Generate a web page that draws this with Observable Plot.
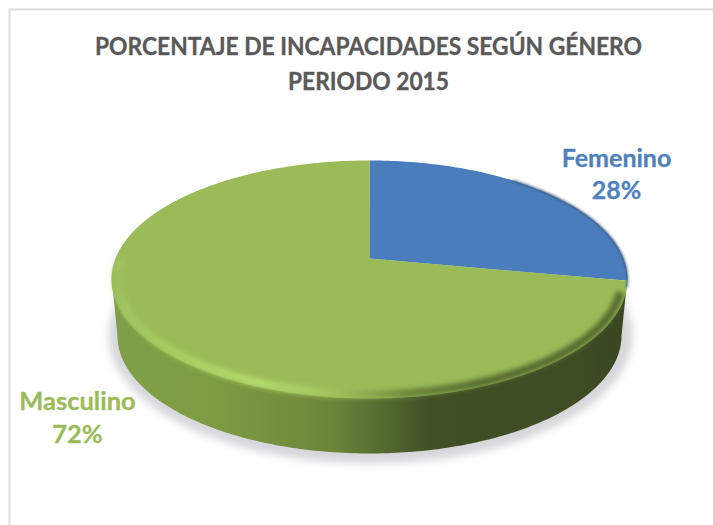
<!DOCTYPE html>
<html>
<head>
<meta charset="utf-8">
<script src="https://cdn.jsdelivr.net/npm/d3@7"></script>
<script src="https://cdn.jsdelivr.net/npm/@observablehq/plot@0.6"></script>
<style>
html,body{margin:0;padding:0;background:#fff}
svg{display:block}
</style>
</head>
<body>
<div id="chart"></div>
<script>
const categories = ["Femenino", "Masculino"];
const shares = [28, 72];
const sliceColors = ["#4a7dbb", "#9bbb59"];
const labelColors = ["#4f81bd", "#9bbb59"];
const titleLines = ["PORCENTAJE DE INCAPACIDADES SEGÚN GÉNERO", "PERIODO 2015"];

// Tilted-disc view: unit circle -> normalised plane, with a perspective term
const k = 0.1765, ax = 0.9845, by = 0.969, shiftY = -0.1765;
const project = (t) => {
  const u = Math.sin(t), v = -Math.cos(t), w = 1 - k * v;
  return [ax * u / w, by * v / w + shiftY];
};
const total = d3.sum(shares);
let acc = 0;
const slicePts = [];
categories.forEach((c, i) => {
  const a0 = acc / total * 2 * Math.PI;
  acc += shares[i];
  const a1 = acc / total * 2 * Math.PI;
  slicePts.push({c, x: 0, y: shiftY});
  const n = Math.ceil((a1 - a0) / (Math.PI / 180));
  for (let j = 0; j <= n; j++) {
    const [x, y] = project(a0 + (a1 - a0) * j / n);
    slicePts.push({c, x, y});
  }
});
const ringPts = (cx, cy, rx, ry, from, to, n = 180) =>
  d3.range(n + 1).map(j => {
    const t = from + (to - from) * j / n;
    return {x: cx + rx * Math.cos(t), y: cy + ry * Math.sin(t)};
  });

const wallPts = [
  {x: -0.995, y: 0.08},
  ...ringPts(0, 0.47, 0.977, 0.992, Math.PI, 0),
  {x: 0.995, y: 0.08}
];
const shadowPts = ringPts(0.004, 0.47, 1.015, 1.075, 0, 2 * Math.PI);
const bevelPts = ringPts(0, 0, 0.978, 0.965, Math.PI * 1.06, Math.PI * 0.035);
const darkRimPts = ringPts(0, 0, 1, 1, -Math.PI / 2, 0.02 * Math.PI);

const blur = (id) => ({
  render(index, scales, values, dims, ctx, next) {
    const g = next(index, scales, values, dims, ctx);
    g.setAttribute("filter", `url(#${id})`);
    return g;
  }
});

const defs = () => {
  const d = d3.create("svg:defs");
  const grad = (id, stops) => {
    const g = d.append("linearGradient").attr("id", id)
      .attr("gradientUnits", "userSpaceOnUse")
      .attr("x1", 110).attr("x2", 628).attr("y1", 0).attr("y2", 0);
    stops.forEach(([o, c]) => g.append("stop").attr("offset", o).attr("stop-color", c));
  };
  grad("wall", [[0, "#7f9f48"], [0.2, "#7d9c42"], [0.42, "#6d873a"], [0.52, "#566c30"], [0.62, "#414f25"], [0.9, "#3e4c24"], [1, "#3a4722"]]);
  grad("bevel", [[0, "#9bbb59"], [0.03, "#a3c763"], [0.12, "#a8cf62"], [0.28, "#b6dd6e"], [0.42, "#a4c660"], [0.5, "#8aa74d"], [0.58, "#6a8239"], [0.72, "#55692f"], [1, "#55692f"]]);
  const f = (id, s) => d.append("filter").attr("id", id)
    .attr("x", "-10%").attr("y", "-20%").attr("width", "120%").attr("height", "140%")
    .append("feGaussianBlur").attr("stdDeviation", s);
  f("soft", 4);
  f("edge", 2.6);
  f("rimsoft", 0.8);
  return d.node();
};

const textBase = {fontFamily: "Lato, 'Open Sans', sans-serif", fontWeight: 700, frameAnchor: "top-left", textAnchor: "middle", lineAnchor: "top", text: d => d};
const titleStyle = {...textBase, fontSize: 25.5, fill: "#595959", stroke: "#595959", strokeWidth: 0.35};

const chart = Plot.plot({
  width: 713,
  height: 525,
  margin: 0,
  axis: null,
  x: {domain: [-1, 1], range: [111, 627]},
  y: {domain: [-1, 1], range: [160, 398]},
  color: {domain: categories, range: sliceColors},
  marks: [
    defs,
    Plot.frame({stroke: "#dcdcdc", strokeWidth: 2, insetLeft: 9, insetTop: 9, insetRight: -10, insetBottom: -10}),
    Plot.line(shadowPts, {x: "x", y: "y", fill: "#d6d6da", stroke: "none", ...blur("soft")}),
    Plot.line(wallPts, {x: "x", y: "y", fill: "url(#wall)", stroke: "none"}),
    Plot.line(slicePts, {x: "x", y: "y", z: "c", fill: "c", stroke: "none"}),
    Plot.line(bevelPts, {x: "x", y: "y", stroke: "url(#bevel)", strokeWidth: 8, strokeLinecap: "butt", ...blur("edge")}),
    Plot.line(darkRimPts.filter(d => d.x > 0.55), {x: "x", y: "y", stroke: "#34506f", strokeWidth: 1.5, ...blur("rimsoft")}),
    Plot.text([titleLines[0]], {...titleStyle, dx: 368, dy: 36}),
    Plot.text([titleLines[1]], {...titleStyle, dx: 368, dy: 71}),
    Plot.text([`${categories[0]}\n${shares[0]}%`], {
      ...textBase, dx: 616, dy: 143, lineHeight: 1.3, fontSize: 25, fill: labelColors[0], stroke: labelColors[0], strokeWidth: 0.3
    }),
    Plot.text([`${categories[1]}\n${shares[1]}%`], {
      ...textBase, dx: 77, dy: 386, lineHeight: 1.3, fontSize: 25.5, fill: labelColors[1], stroke: labelColors[1], strokeWidth: 0.3
    })
  ]
});
// Condense the title's glyphs to the reference's narrower letterforms
const titleWidths = [547, 161];
d3.select(chart).selectAll("text").filter(function () {
  return titleLines.includes(this.textContent);
}).each(function () {
  this.setAttribute("textLength", titleWidths[titleLines.indexOf(this.textContent)]);
  this.setAttribute("lengthAdjust", "spacingAndGlyphs");
});
document.getElementById("chart").append(chart);
</script>
</body>
</html>
